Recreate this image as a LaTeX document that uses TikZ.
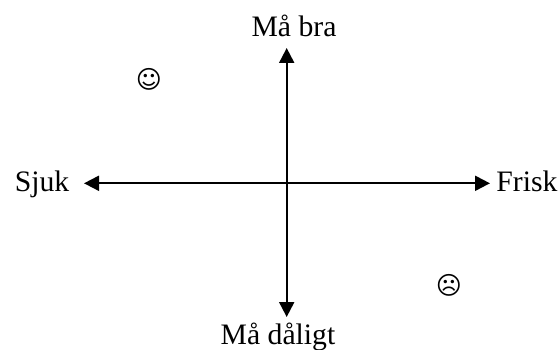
\documentclass[tikz,border=0pt]{standalone}
\usepackage{fontspec}
\setmainfont{Liberation Serif}
\newfontfamily\symfont{DejaVu Sans}
\usetikzlibrary{arrows.meta}
\tikzset{
  lbl/.style={inner sep=0pt,anchor=base,font=\fontsize{29.7pt}{32pt}\selectfont},
  face/.style={inner sep=0pt,font=\symfont\fontsize{25pt}{30pt}\selectfont},
  axis/.style={draw=black,line width=2pt,{Triangle[length=15pt,width=15pt]}-{Triangle[length=15pt,width=15pt]}}
}
\begin{document}
\begin{tikzpicture}[x=1pt,y=-1pt]
\useasboundingbox (0,0) rectangle (560,350);
\node[lbl] (top) at (294,37) {Må bra};
\node[lbl] (bot) at (278,344) {Må dåligt};
\node[lbl] (left) at (42,192) {Sjuk};
\node[lbl] (right) at (527,192) {Frisk};
\coordinate (n) at (286.7,48);
\coordinate (s) at (286.7,317);
\coordinate (w) at (84,183.3);
\coordinate (e) at (490,183.3);
\draw[axis] (n) -- (s);
\draw[axis] (w) -- (e);
\node[face] (smile) at (149,79) {☺};
\node[face] (sad) at (449,285) {☹};
\end{tikzpicture}
\end{document}
